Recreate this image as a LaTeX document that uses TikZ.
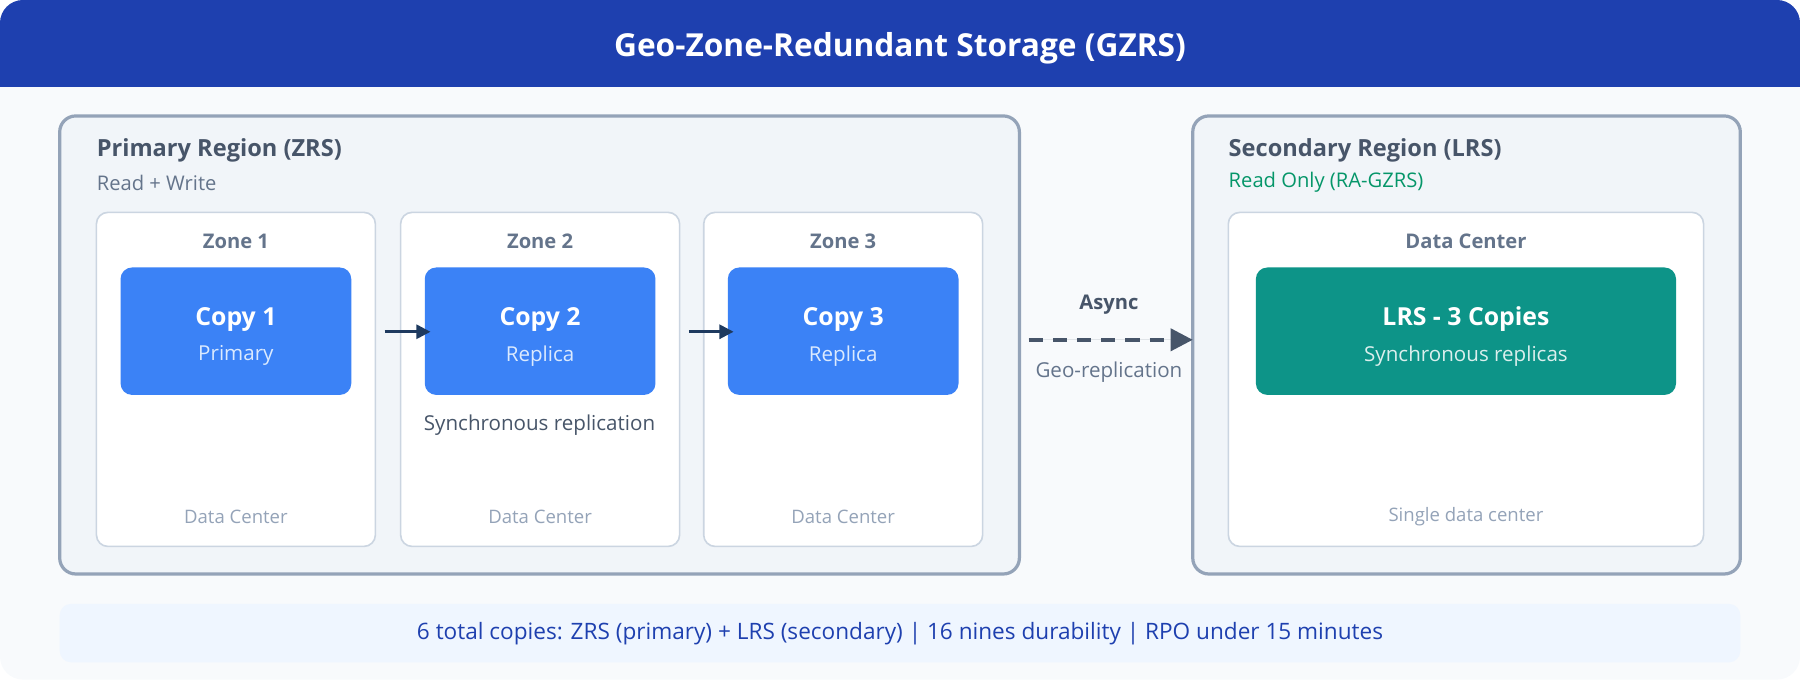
\documentclass[tikz,border=0pt]{standalone}
\usepackage{fontspec}
\setmainfont{Open Sans}
\usetikzlibrary{positioning,arrows.meta}
\definecolor{hdrblue}{HTML}{1E40AF}
\definecolor{pagebg}{HTML}{F8FAFC}
\definecolor{regionbg}{HTML}{F1F5F9}
\definecolor{regionline}{HTML}{94A3B8}
\definecolor{zoneline}{HTML}{CBD5E1}
\definecolor{slate}{HTML}{475569}
\definecolor{slatelt}{HTML}{64748B}
\definecolor{slatexl}{HTML}{94A3B8}
\definecolor{copyblue}{HTML}{3B82F6}
\definecolor{copysub}{HTML}{DBEAFE}
\definecolor{lrsteal}{HTML}{0D9488}
\definecolor{okgreen}{HTML}{059669}
\definecolor{navy}{HTML}{1E3A5F}
\definecolor{footbg}{HTML}{EFF6FF}
\tikzset{
  region/.style={draw=regionline, line width=1.6pt, fill=regionbg, rounded corners=0.28cm},
  zone/.style={draw=zoneline, line width=0.8pt, fill=white, rounded corners=0.2cm},
  copybox/.style={fill=copyblue, rounded corners=0.2cm},
  lrsbox/.style={fill=lrsteal, rounded corners=0.2cm},
  head/.style={font=\fontsize{11.7}{13}\selectfont\bfseries, text=slate, anchor=west, inner sep=0pt},
  sub/.style={font=\fontsize{10}{12}\selectfont, anchor=west, inner sep=0pt},
  zonehead/.style={font=\fontsize{10}{12}\selectfont\bfseries, text=slatelt, inner sep=0pt},
  dc/.style={font=\fontsize{9.2}{11}\selectfont, text=slatexl, inner sep=0pt},
  big/.style={font=\fontsize{12.3}{14}\selectfont\bfseries, text=white, inner sep=0pt},
  small/.style={font=\fontsize{10.2}{12}\selectfont, text=copysub, inner sep=0pt},
  sync/.style={-{Triangle[length=7pt,width=7pt]}, draw=navy, line width=1.3pt}
}
\begin{document}
\begin{tikzpicture}[x=0.02cm, y=-0.02cm]
% page and header
\fill[pagebg, rounded corners=0.4cm] (0,0) rectangle (1568,592);
\fill[hdrblue, rounded corners=0.4cm] (0,0) rectangle (1568,40);
\fill[hdrblue] (0,20) rectangle (1568,76);
\node[font=\fontsize{15.7}{18}\selectfont\bfseries, text=white] (title) at (784,42) {Geo-Zone-Redundant Storage (GZRS)};
% primary region
\draw[region] (52,101) rectangle (888,500);
\coordinate (prim) at (888,296);
\node[head] (primhead) at (84,131) {Primary Region (ZRS)};
\node[sub, text=slatelt] (primsub) at (84,159) {Read + Write};
\foreach \i/\x/\s in {1/84/Primary, 2/349/Replica, 3/613/Replica} {
  \draw[zone] (\x,185) rectangle ++(243,291);
  \node[zonehead] (zone\i) at (\x+121.5,210) {Zone \i};
  \node[dc] (dc\i) at (\x+121.5,450) {Data Center};
  \fill[copybox] (\x+21,233) rectangle ++(201,111);
  \coordinate (c\i w) at (\x+21,289);
  \coordinate (c\i e) at (\x+222,289);
  \node[big] (copy\i) at (\x+121.5,278) {Copy \i};
  \node[small] (copysub\i) at (\x+121.5,310) {\s};
}
\draw[sync] ([xshift=0.58cm]c1e) -- ([xshift=0.1cm]c2w);
\draw[sync] ([xshift=0.58cm]c2e) -- ([xshift=0.1cm]c3w);
\node[font=\fontsize{10.2}{12}\selectfont, text=slate] (synclbl) at (470,370) {Synchronous replication};
% secondary region
\draw[region] (1039,101) rectangle (1516,500);
\coordinate (sec) at (1039,296);
\node[head] (sechead) at (1070,131) {Secondary Region (LRS)};
\node[sub, text=okgreen] (secsub) at (1070,159) {Read Only (RA-GZRS)};
\draw[zone] (1070,185) rectangle (1484,476);
\node[zonehead] (dchead) at (1277,210) {Data Center};
\fill[lrsbox] (1094,233) rectangle (1460,344);
\node[big] (lrs) at (1277,278) {LRS - 3 Copies};
\node[small, text=white!85!lrsteal] (lrssub) at (1277,310) {Synchronous replicas};
\node[dc] (dc4) at (1277,450) {Single data center};
% async link
\draw[-{Triangle[length=11pt,width=11pt]}, draw=slate, fill=slate, line width=1.8pt, dash pattern=on 7pt off 5pt] ([xshift=0.16cm]prim) -- (sec);
\node[font=\fontsize{10}{12}\selectfont\bfseries, text=slate] (async) at (966,265) {Async};
\node[font=\fontsize{10.2}{12}\selectfont, text=slatelt] (georep) at (966,324) {Geo-replication};
% footer
\fill[footbg, rounded corners=0.2cm] (52,526) rectangle (1516,577);
\node[font=\fontsize{11.2}{13}\selectfont, text=hdrblue] (foot) at (784,552) {6 total copies: ZRS (primary) + LRS (secondary) | 16 nines durability | RPO under 15 minutes};
\end{tikzpicture}
\end{document}
